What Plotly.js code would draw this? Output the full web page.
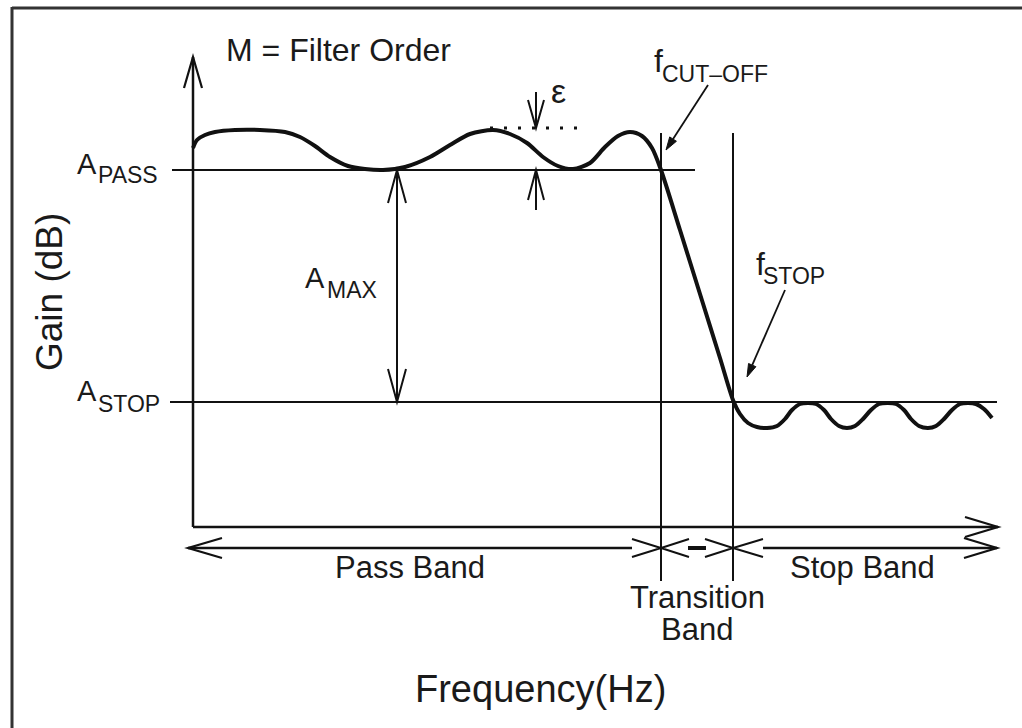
<!DOCTYPE html>
<html><head><meta charset="utf-8">
<script src="https://cdn.plot.ly/plotly-3.0.1.min.js"></script>
<style>html,body{margin:0;padding:0;background:#fff}</style>
</head><body><div id="chart" style="width:1022px;height:728px"></div>
<script>
// Frequency (arbitrary units, 0 at the gain axis) and gain (arbitrary units, 0 at the frequency axis)
const freq = [0,4,12,22,42,67,92,107,122,137,155,172,190,212,237,257,277,300,317,334,350,365,380,397,412,425,437,449,459,468,487,507,527,540,547,555,564,574,584,592,599,607,615,623,631,638,646,654,662,670,678,686,695,703,711,718,726,735,743,751,759,767,775,783,791,799];
const gain = [379,387,392,395,397,397,395,390,381,370,361,358,357,360,370,382,393,397,393,384,370,361,358,364,380,391,395,391,379,357,297,233,169,127,113,104,100,99,101,108,117,123,124,123,117,108,101,99,101,108,117,123,124,123,117,108,101,99,101,108,117,123,124,123,118,109];

// Key levels / frequencies
const A_PASS = 357, A_STOP = 125, RIPPLE_TOP = 399;
const F_CUT = 468, F_STOP = 540;
const F_END = 805, G_TOP = 470;
const BAND_Y = -21, BAND_START = -5, BAND_END = 804;
const AMAX_X = 204, EPS_X = 343;

// Labels
const bandLabels = ['Pass Band', 'Transition', 'Band', 'Stop Band'];
const xTitle = 'Frequency(Hz)', yTitle = 'Gain (dB)';

const INK = '#111';
const FONT = '"Liberation Sans", Arial, sans-serif';

function line(x0,y0,x1,y1,w,dash){
  return {type:'line',xref:'x',yref:'y',x0,y0,x1,y1,line:{color:INK,width:w||2,dash:dash||'solid'}};
}
function chevron(tx,ty,bx,by,len,half,w){
  const px=-by, py=bx;
  const p1=[tx+bx*len+px*half, ty+by*len+py*half];
  const p2=[tx+bx*len-px*half, ty+by*len-py*half];
  return {type:'path',xref:'x',yref:'y',
    path:`M ${p1[0]},${p1[1]} L ${tx},${ty} L ${p2[0]},${p2[1]}`,
    line:{color:INK,width:w||2}};
}
function pointer(hx,hy,tx,ty){
  const dx=hx-tx, dy=hy-ty, d=Math.hypot(dx,dy), ux=dx/d, uy=dy/d;
  const L=13, h=4;
  const bx=hx-ux*L, by=hy-uy*L;
  return [
    {type:'line',xref:'x',yref:'y',x0:tx,y0:ty,x1:bx,y1:by,line:{color:INK,width:1.8}},
    {type:'path',xref:'x',yref:'y',
      path:`M ${hx},${hy} L ${bx-uy*h},${by+ux*h} L ${bx+uy*h},${by-ux*h} Z`,
      fillcolor:INK,line:{color:INK,width:1}}
  ];
}

const shapes = [
  // frame (top and left)
  {type:'line',xref:'paper',yref:'paper',x0:12/1022,x1:1,y0:1-8/728,y1:1-8/728,line:{color:'#333',width:3}},
  {type:'line',xref:'paper',yref:'paper',x0:12/1022,x1:12/1022,y0:0,y1:1-7/728,line:{color:'#333',width:3}},
  // axes
  line(0,0,0,G_TOP,2.5), line(0,0,F_END,0,2.5),
  chevron(0,G_TOP,0,-1,31,9,2.2), chevron(F_END,0,-1,0,33,10,2.2),
  // reference levels
  line(-21,A_PASS,502,A_PASS,2), line(-23,A_STOP,BAND_END,A_STOP,2),
  // cut-off and stop frequency markers
  line(F_CUT,-54,F_CUT,394,2), line(F_STOP,-54,F_STOP,394,2),
  // A_MAX double arrow
  line(AMAX_X,A_STOP,AMAX_X,A_PASS,2),
  chevron(AMAX_X,A_PASS,0,-1,33,9,2), chevron(AMAX_X,A_STOP,0,1,33,9,2),
  // epsilon ripple
  line(297,RIPPLE_TOP,387,RIPPLE_TOP,3,'3px,11px'),
  line(EPS_X,RIPPLE_TOP,EPS_X,435,2), chevron(EPS_X,RIPPLE_TOP,0,1,28,8,2),
  line(EPS_X,A_PASS,EPS_X,317,2), chevron(EPS_X,A_PASS,0,-1,30,8,2),
  // band arrows
  line(BAND_START,BAND_Y,F_CUT-29,BAND_Y,2.5),
  line(F_CUT+27,BAND_Y,F_STOP-27,BAND_Y,4),
  line(F_STOP+30,BAND_Y,BAND_END,BAND_Y,2.5),
  chevron(BAND_START,BAND_Y,1,0,34,10,2.2), chevron(BAND_END,BAND_Y,-1,0,33,10,2.2),
  chevron(F_CUT,BAND_Y,-1,0,29,9,2), chevron(F_CUT,BAND_Y,1,0,28,9,2),
  chevron(F_STOP,BAND_Y,-1,0,28,9,2), chevron(F_STOP,BAND_Y,1,0,30,9,2),
  // pointers to f_cut-off and f_stop
  ...pointer(473,377,515,442),
  ...pointer(554,150,592,237)
];

function txt(text,x,y,size,xanchor,opts){
  return Object.assign({text,x,y,xref:'x',yref:'y',showarrow:false,xanchor:xanchor||'center',yanchor:'middle',
    borderpad:0,font:{family:FONT,size,color:'#1a1a1a'}},opts||{});
}

const annotations = [
  txt('M = Filter Order',32,477,32,'left'),
  txt('ε',365,436,34,'center'),
  // f_CUT-OFF
  txt('f',460,466,32,'left'),
  txt('CUT–OFF',468,453,23,'left'),
  // f_STOP
  txt('f',562,263,32,'left'),
  txt('STOP',569,251,23,'left'),
  // A_PASS
  txt('A',-95,363,29,'right'),
  txt('PASS',-96,352,23,'left'),
  // A_STOP
  txt('A',-95,136,29,'right'),
  txt('STOP',-96,123,23,'left'),
  // A_MAX
  txt('A',111,249,29,'left'),
  txt('MAX',133,237,23,'left'),
  txt(yTitle,-144,235,37,'center',{textangle:-90}),
  txt(xTitle,347,-162,38,'center'),
  txt(bandLabels[0],217,-40,31,'center'),
  txt(bandLabels[1],504,-70,31,'center'),
  txt(bandLabels[2],504,-102,31,'center'),
  txt(bandLabels[3],669,-40,31,'center')
];

const trace = {x:freq,y:gain,mode:'lines',line:{color:INK,width:4,shape:'spline',smoothing:0.8},hoverinfo:'skip'};

const layout = {
  width:1022,height:728,margin:{l:0,r:0,t:0,b:0},
  paper_bgcolor:'#fff',plot_bgcolor:'#fff',showlegend:false,
  xaxis:{range:[-193,829],visible:false,fixedrange:true},
  yaxis:{range:[-201,527],visible:false,fixedrange:true},
  shapes,annotations
};
Plotly.newPlot('chart',[trace],layout,{staticPlot:true,displayModeBar:false});
</script></body></html>
